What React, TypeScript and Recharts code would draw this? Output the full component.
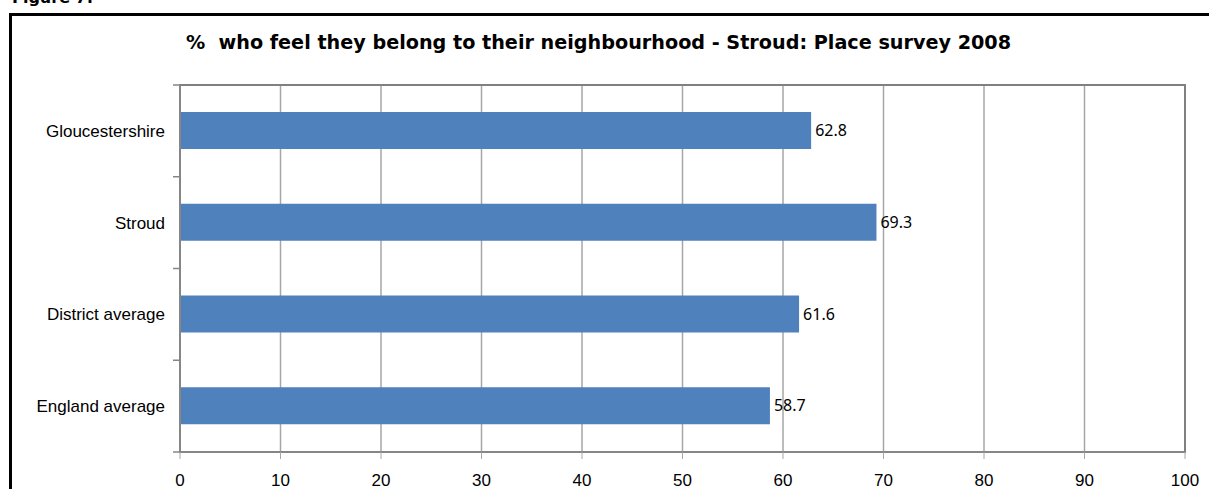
import { BarChart, Bar, XAxis, YAxis, CartesianGrid, LabelList, ReferenceArea } from 'recharts';

const CATEGORIES = ['Gloucestershire', 'Stroud', 'District average', 'England average'];
const VALUES = [62.8, 69.3, 61.6, 58.7];
const X_TICKS = [0, 10, 20, 30, 40, 50, 60, 70, 80, 90, 100];

const TITLE = '%  who feel they belong to their neighbourhood - Stroud: Place survey 2008';

const data = CATEGORIES.map((name, i) => ({ name, value: VALUES[i] }));

const Y_TICK_SIZE = 7;
const Y_TICK_MARGIN = 8;

// Category label plus Excel-style tick marks on the band boundaries
function CategoryTick(props: any) {
  const { x, y, payload, index, visibleTicksCount } = props;
  const half = payload?.offset ?? 0;
  const axisX = x + Y_TICK_SIZE + Y_TICK_MARGIN;
  const isLast = index === visibleTicksCount - 1;
  return (
    <g>
      <line x1={axisX - Y_TICK_SIZE} x2={axisX} y1={y - half} y2={y - half} stroke="#868686" strokeWidth={1.5} />
      {isLast && (
        <line x1={axisX - Y_TICK_SIZE} x2={axisX} y1={y + half} y2={y + half} stroke="#868686" strokeWidth={1.5} />
      )}
      <text
        x={x}
        y={y}
        dy="0.35em"
        textAnchor="end"
        fill="#000"
        fontSize={17}
        fontFamily='"Liberation Sans", sans-serif'
      >
        {payload.value}
      </text>
    </g>
  );
}

export default function App() {
  return (
    <div
      style={{
        position: 'absolute',
        left: 0,
        top: 0,
        width: 1209,
        height: 489,
        background: '#fff',
        overflow: 'hidden',
      }}
    >
      {/* caption cut off at top of the crop */}
      <div
        style={{
          position: 'absolute',
          left: 12,
          top: -10,
          fontFamily: '"DejaVu Sans", sans-serif',
          fontWeight: 'bold',
          fontSize: 16,
          lineHeight: '16px',
        }}
      >
        Figure 7:
      </div>
      <div
        style={{
          position: 'absolute',
          left: 9,
          top: 13,
          width: 1220,
          height: 500,
          border: '3px solid #000',
        }}
      />
      <div
        style={{
          position: 'absolute',
          left: 0,
          width: 1197,
          top: 30,
          textAlign: 'center',
          fontFamily: '"DejaVu Sans", sans-serif',
          fontWeight: 'bold',
          fontSize: 19.2,
          lineHeight: '26px',
          whiteSpace: 'pre',
          color: '#000',
        }}
      >
        {TITLE}
      </div>
      <div style={{ position: 'absolute', left: 0, top: 0 }}>
        <BarChart
          width={1209}
          height={489}
          data={data}
          layout="vertical"
          margin={{ top: 85, right: 24, bottom: 7, left: 0 }}
        >
          <CartesianGrid horizontal={false} stroke="#a6a6a6" strokeWidth={1.5} />
          <ReferenceArea x1={0} x2={100} fill="none" stroke="#808080" strokeWidth={2} fillOpacity={0} />
          <XAxis
            type="number"
            domain={[0, 100]}
            ticks={X_TICKS}
            interval={0}
            height={30}
            axisLine={{ stroke: '#868686', strokeWidth: 2 }}
            tickSize={7}
            tickMargin={15}
            tickLine={{ stroke: '#a6a6a6' }}
            tick={{ fill: '#000', fontSize: 17, fontFamily: '"Liberation Sans", sans-serif' }}
          />
          <YAxis
            type="category"
            dataKey="name"
            width={180}
            axisLine={{ stroke: '#868686', strokeWidth: 2 }}
            tickLine={false}
            tickSize={Y_TICK_SIZE}
            tickMargin={Y_TICK_MARGIN}
            tick={<CategoryTick />}
          />
          <Bar dataKey="value" fill="#4F81BD" barSize={37} isAnimationActive={false}>
            <LabelList
              dataKey="value"
              position="right"
              offset={4}
              fill="#000"
              fontSize={16}
              fontFamily='"Noto Sans", sans-serif'
            />
          </Bar>
        </BarChart>
      </div>
    </div>
  );
}
